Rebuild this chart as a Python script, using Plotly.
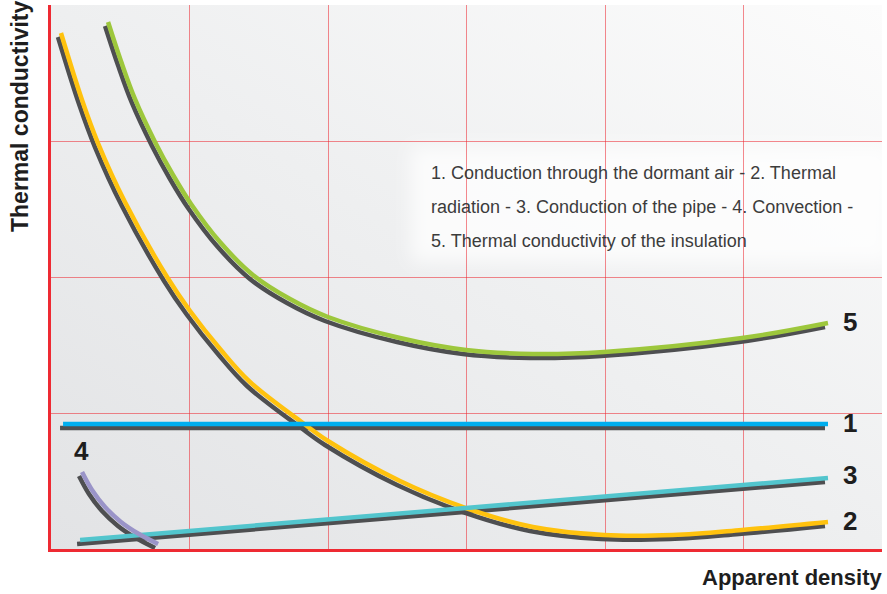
import base64
import plotly.graph_objects as go

# ---- data (x: apparent density, y: thermal conductivity, arbitrary units) ----
X_MAX, Y_MAX = 6, 4

insulation_x = [0.412, 0.505, 0.606, 0.751, 0.881, 1.011, 1.220, 1.458, 1.726, 2.000,
                2.520, 2.996, 3.480, 3.993, 4.989, 5.610]
insulation_y = [3.875, 3.588, 3.309, 2.993, 2.750, 2.537, 2.257, 2.015, 1.838, 1.706,
                1.551, 1.463, 1.434, 1.449, 1.551, 1.662]

radiation_x = [0.072, 0.224, 0.339, 0.534, 0.838, 1.004, 1.227, 1.437, 1.819, 2.000,
               2.520, 2.996, 3.480, 3.993, 4.491, 4.989, 5.610]
radiation_y = [3.794, 3.301, 2.985, 2.551, 2.000, 1.750, 1.463, 1.228, 0.926, 0.794,
               0.500, 0.301, 0.162, 0.103, 0.103, 0.140, 0.199]

air_x = [0.087, 5.610]
air_y = [0.919, 0.919]

pipe_x = [0.210, 5.610]
pipe_y = [0.066, 0.522]

convection_x = [0.224, 0.296, 0.390, 0.505, 0.635, 0.773]
convection_y = [0.566, 0.434, 0.309, 0.199, 0.110, 0.037]

series = [
    # (label, x, y, colour)
    ("5", insulation_x, insulation_y, "#9dc73c"),
    ("2", radiation_x, radiation_y, "#ffc20e"),
    ("1", air_x, air_y, "#00aeef"),
    ("3", pipe_x, pipe_y, "#52c5cd"),
    ("4", convection_x, convection_y, "#9a94c8"),
]

legend_lines = [
    "1. Conduction through the dormant air - 2. Thermal",
    "radiation - 3. Conduction of the pipe - 4. Convection -",
    "5. Thermal conductivity of the insulation",
]

# ---- layout geometry ----
W, H = 887, 594
M_L, M_R, M_T, M_B = 51, 5, 5, 45
PW, PH = W - M_L - M_R, H - M_T - M_B
px_x = X_MAX / PW
px_y = Y_MAX / PH

# drop shadow offset of every curve: 3 px left, 4 px down
SH_DX, SH_DY = 3 * px_x, 4 * px_y

SHADOW = "#4e4f51"
RED = "#ee2a33"
GRID = "rgba(236, 40, 50, 0.55)"
FONT = "Liberation Sans Narrow, Arial Narrow, Liberation Sans, Arial, sans-serif"

# soft grey-to-white background with a light panel behind the explanatory text
svg = f"""<svg xmlns='http://www.w3.org/2000/svg' width='{PW}' height='{PH}' viewBox='0 0 {PW} {PH}' preserveAspectRatio='none'>
<defs>
<linearGradient id='g' x1='0' y1='1' x2='1' y2='0'>
<stop offset='0' stop-color='#e2e3e5'/>
<stop offset='0.5' stop-color='#eeeff0'/>
<stop offset='1' stop-color='#fcfcfc'/>
</linearGradient>
<filter id='b' x='-20%' y='-40%' width='140%' height='180%'><feGaussianBlur stdDeviation='9'/></filter>
</defs>
<rect width='{PW}' height='{PH}' fill='url(#g)'/>
<rect x='360' y='142' width='480' height='115' fill='#ffffff' fill-opacity='0.75' filter='url(#b)'/>
</svg>"""
bg_src = "data:image/svg+xml;base64," + base64.b64encode(svg.encode()).decode()

fig = go.Figure()

# shadows on the primary axes (drawn first, so below the coloured lines)
for name, xs, ys, col in series:
    fig.add_trace(go.Scatter(
        x=xs, y=ys, mode="lines", xaxis="x", yaxis="y",
        line=dict(color=SHADOW, width=4.5, shape="spline", smoothing=1.0),
        hoverinfo="skip", showlegend=False,
    ))

# coloured curves on the overlaid axes
for name, xs, ys, col in series:
    fig.add_trace(go.Scatter(
        x=xs, y=ys, mode="lines", xaxis="x2", yaxis="y2", name=name,
        line=dict(color=col, width=4.5, shape="spline", smoothing=1.0),
        showlegend=False,
    ))

annotations = []
# curve numbers
for name, xs, ys, col in series:
    if name == "4":
        annotations.append(dict(x=xs[0], y=ys[0], xref="x2", yref="y2", text="<b>4</b>",
                                showarrow=False, yshift=21, xshift=-1,
                                font=dict(size=26, color="#1e1e1e", family=FONT)))
    else:
        annotations.append(dict(x=xs[-1], y=ys[-1], xref="x2", yref="y2", text=f"<b>{name}</b>",
                                showarrow=False, xshift=22, yshift=3 if name == "3" else 1,
                                xanchor="center",
                                font=dict(size=26, color="#1e1e1e", family=FONT)))

# explanatory text
for i, line in enumerate(legend_lines):
    annotations.append(dict(x=(429 - M_L) / PW, y=1 - (173 + 34 * i - M_T) / PH,
                            xref="paper", yref="paper", xanchor="left", yanchor="middle",
                            text=line, showarrow=False,
                            font=dict(size=18, color="#3c3c3c", family=FONT)))

# axis titles
annotations.append(dict(x=(20 - M_L) / PW, y=1 - (116 - M_T) / PH, xref="paper", yref="paper",
                        text="<b>Thermal conductivity</b>", textangle=-90, showarrow=False,
                        xanchor="center", yanchor="middle",
                        font=dict(size=23, color="#1e1e1e", family=FONT)))
annotations.append(dict(x=1 + 2 / PW, y=-(577 - (H - M_B)) / PH, xref="paper", yref="paper",
                        text="<b>Apparent density</b>", showarrow=False,
                        xanchor="right", yanchor="middle",
                        font=dict(size=22, color="#1e1e1e", family=FONT)))

fig.update_layout(
    width=W, height=H,
    margin=dict(l=M_L, r=M_R, t=M_T, b=M_B),
    paper_bgcolor="white",
    plot_bgcolor="rgba(0,0,0,0)",
    images=[dict(source=bg_src, xref="paper", yref="paper", x=0, y=1, sizex=1, sizey=1,
                 xanchor="left", yanchor="top", sizing="stretch", layer="below")],
    xaxis=dict(range=[SH_DX, X_MAX + SH_DX], tickmode="array",
               tickvals=[k + SH_DX for k in range(1, X_MAX)],
               showticklabels=False, ticks="", showgrid=True, gridcolor=GRID, gridwidth=1,
               zeroline=False, showline=True, linecolor=RED, linewidth=3, fixedrange=True),
    yaxis=dict(range=[SH_DY, Y_MAX + SH_DY], tickmode="array",
               tickvals=[k + SH_DY for k in range(1, Y_MAX)],
               showticklabels=False, ticks="", showgrid=True, gridcolor=GRID, gridwidth=1,
               zeroline=False, showline=True, linecolor=RED, linewidth=3, fixedrange=True),
    xaxis2=dict(range=[0, X_MAX], overlaying="x", showgrid=False, showticklabels=False,
                ticks="", zeroline=False, showline=False, fixedrange=True),
    yaxis2=dict(range=[0, Y_MAX], overlaying="y", showgrid=False, showticklabels=False,
                ticks="", zeroline=False, showline=False, fixedrange=True),
    annotations=annotations,
    font=dict(family=FONT),
)

fig.write_html("out.html")
